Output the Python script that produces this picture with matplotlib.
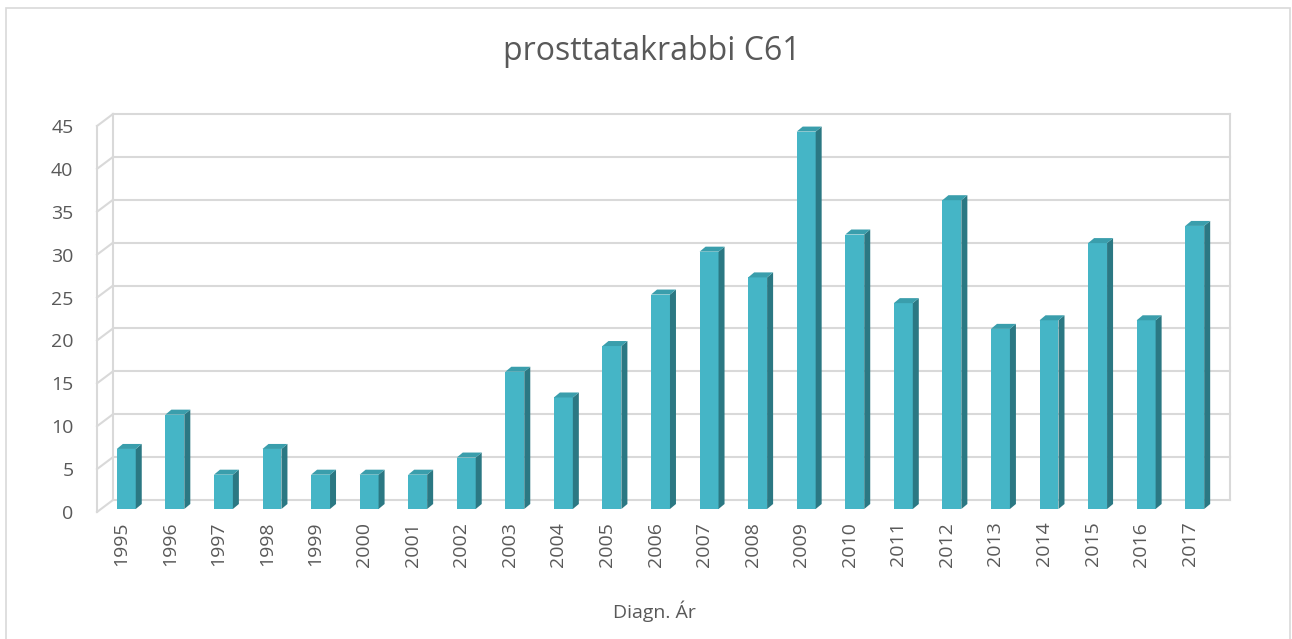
import matplotlib
matplotlib.use("Agg")
import matplotlib.pyplot as plt
from matplotlib.patches import Rectangle, Polygon
from matplotlib.lines import Line2D
from matplotlib.transforms import Affine2D, IdentityTransform
import numpy as np

years = ['1995', '1996', '1997', '1998', '1999', '2000', '2001', '2002', '2003',
         '2004', '2005', '2006', '2007', '2008', '2009', '2010', '2011', '2012',
         '2013', '2014', '2015', '2016', '2017']
cases = [7, 11, 4, 7, 4, 4, 4, 6, 16, 13, 19, 25, 30, 27, 44, 32, 24, 36,
         21, 22, 31, 22, 33]
yticks = [0, 5, 10, 15, 20, 25, 30, 35, 40, 45]

W, H = 1292, 639
plt.rcParams['font.family'] = ['Open Sans', 'DejaVu Sans']
txt = '#595959'
grid = '#d9d9d9'
c_front = '#45b5c6'
c_side = '#2b7883'
c_top = '#3a9eac'

fig = plt.figure(figsize=(W / 100, H / 100), dpi=100)
# front plane of the 3d box, in pixels
x0, x1, y0, y1 = 97, 1214, 512, 126
ax = fig.add_axes([x0 / W, (H - y0) / H, (x1 - x0) / W, (y0 - y1) / H])
n = len(years)
ax.set_xlim(-0.5, n - 0.5)
ax.set_ylim(0, 45)
ax.patch.set_visible(False)
for s in ax.spines.values():
    s.set_visible(False)

# chart border
fig.patches.append(Rectangle((6 / W, -0.05), 1284 / W, (H - 8) / H + 0.05,
                             transform=fig.transFigure, fill=False,
                             edgecolor=grid, lw=1.2))

back = ax.transData + Affine2D().translate(16, 12)
ident = IdentityTransform()

# back wall grid
for t in yticks:
    ax.add_line(Line2D([-0.5, n - 0.5], [t, t], transform=back, color=grid,
                       lw=1.5, zorder=1, clip_on=False))
ax.add_line(Line2D([n - 0.5, n - 0.5], [0, 45], transform=back, color=grid,
                   lw=1.5, zorder=1, clip_on=False))
ax.add_line(Line2D([-0.5, -0.5], [0, 45], transform=back, color=grid,
                   lw=1.5, zorder=1, clip_on=False))
# side wall
ax.add_line(Line2D([-0.5, -0.5], [0, 45], transform=ax.transData, color=grid,
                   lw=1.5, zorder=1, clip_on=False))
for t in yticks:
    p = ax.transData.transform((-0.5, t))
    q = back.transform((-0.5, t))
    ax.add_line(Line2D([p[0], q[0]], [p[1], q[1]], transform=ident,
                       color=grid, lw=1.5, zorder=1, clip_on=False))

# bars
bw = 0.39
front = ax.transData + Affine2D().translate(5, 3)
d = np.array([6, 5])
for i, v in enumerate(cases):
    xl, xr = i - bw / 2, i + bw / 2
    ax.add_patch(Rectangle((xl, 0), bw, v, transform=front, facecolor=c_front,
                           edgecolor='none', zorder=3, clip_on=False))
    br, tr, tl = front.transform([(xr, 0), (xr, v), (xl, v)])
    ax.add_patch(Polygon([br, tr, tr + d, br + d], closed=True, transform=ident,
                         facecolor=c_side, edgecolor='none', zorder=3))
    ax.add_patch(Polygon([tl, tr, tr + d, tl + d], closed=True, transform=ident,
                         facecolor=c_top, edgecolor='none', zorder=3))

ax.set_yticks(yticks)
ax.set_yticklabels([str(t) for t in yticks])
ax.set_xticks(range(n))
ax.set_xticklabels(years, rotation=90)
ax.tick_params(axis='y', length=0, pad=17, labelsize=14, labelcolor=txt)
ax.tick_params(axis='x', length=0, pad=7, labelsize=14, labelcolor=txt)

fig.text(652 / W, 1 - 52 / H, 'prosttatakrabbi C61', ha='center', va='center',
         fontsize=23, color=txt)
fig.text(654 / W, 1 - 611 / H, 'Diagn. Ár', ha='center', va='center',
         fontsize=14, color=txt)

fig.savefig('out.png', dpi=100, facecolor='white')
